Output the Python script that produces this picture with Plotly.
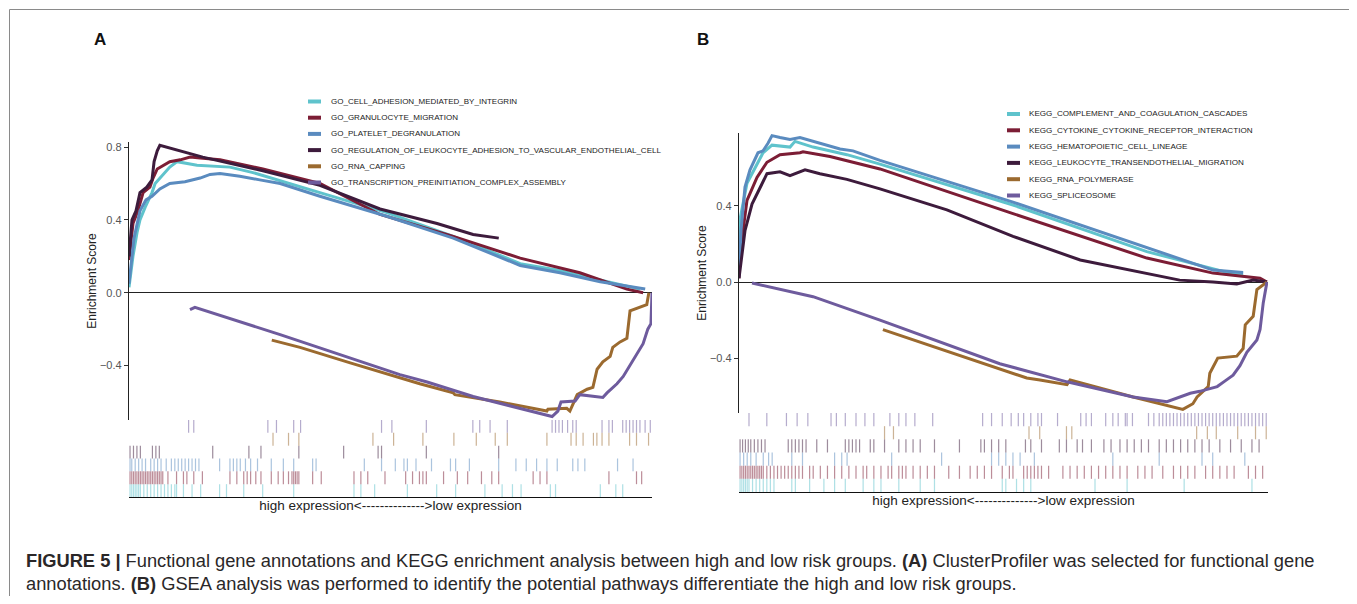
import plotly.graph_objects as go

# page is 1357x604; the html body has an 8px margin, so the figure is drawn inside it
PAGE_W, PAGE_H = 1357, 604
OFF = 8
W, H = PAGE_W - 2 * OFF, PAGE_H - 2 * OFF

# ---------------- data: panel A (GO) ----------------
GO_NAMES = [
    "GO_CELL_ADHESION_MEDIATED_BY_INTEGRIN",
    "GO_GRANULOCYTE_MIGRATION",
    "GO_PLATELET_DEGRANULATION",
    "GO_REGULATION_OF_LEUKOCYTE_ADHESION_TO_VASCULAR_ENDOTHELIAL_CELL",
    "GO_RNA_CAPPING",
    "GO_TRANSCRIPTION_PREINITIATION_COMPLEX_ASSEMBLY",
]
# running enrichment score curves: x = position in ranked list (fraction), y = ES
GO_X = [
    [0, 0.0076, 0.0153, 0.021, 0.031, 0.036, 0.044, 0.050, 0.059, 0.069, 0.078, 0.092, 0.130, 0.193, 0.237, 0.365, 0.493, 0.620, 0.748, 0.818, 0.901, 0.945, 0.977],
    [0, 0.0076, 0.017, 0.027, 0.040, 0.046, 0.054, 0.065, 0.078, 0.098, 0.117, 0.136, 0.174, 0.256, 0.365, 0.48, 0.62, 0.748, 0.862, 0.952, 0.983],
    [0, 0.0096, 0.021, 0.0325, 0.044, 0.059, 0.078, 0.107, 0.136, 0.155, 0.174, 0.212, 0.250, 0.289, 0.365, 0.493, 0.620, 0.748, 0.824, 0.901, 0.987],
    [0, 0.0057, 0.0134, 0.021, 0.034, 0.044, 0.048, 0.054, 0.059, 0.141, 0.256, 0.365, 0.48, 0.589, 0.658, 0.707],
    [0.273, 0.327, 0.423, 0.518, 0.556, 0.620, 0.623, 0.709, 0.799, 0.801, 0.837, 0.843, 0.857, 0.876, 0.887, 0.895, 0.906, 0.920, 0.925, 0.939, 0.952, 0.958, 0.990, 0.994],
    [0.1166, 0.126, 0.289, 0.518, 0.570, 0.658, 0.809, 0.820, 0.826, 0.853, 0.862, 0.906, 0.914, 0.925, 0.933, 0.945, 0.958, 0.971, 0.983, 0.992, 0.998, 1.0],
]
GO_ES = [
    [0.03, 0.2, 0.33, 0.40, 0.47, 0.50, 0.55, 0.60, 0.63, 0.66, 0.69, 0.72, 0.70, 0.69, 0.66, 0.55, 0.44, 0.31, 0.16, 0.125, 0.07, 0.04, 0.02],
    [0.18, 0.38, 0.45, 0.55, 0.58, 0.63, 0.68, 0.70, 0.72, 0.73, 0.745, 0.74, 0.73, 0.68, 0.60, 0.43, 0.31, 0.19, 0.11, 0.02, 0.0],
    [0.05, 0.3, 0.45, 0.51, 0.53, 0.57, 0.60, 0.61, 0.63, 0.65, 0.655, 0.64, 0.62, 0.60, 0.53, 0.42, 0.30, 0.15, 0.11, 0.06, 0.02],
    [0.20, 0.40, 0.45, 0.55, 0.58, 0.62, 0.72, 0.78, 0.81, 0.745, 0.67, 0.59, 0.46, 0.38, 0.32, 0.30],
    [-0.26, -0.30, -0.385, -0.47, -0.50, -0.55, -0.56, -0.60, -0.65, -0.64, -0.635, -0.65, -0.56, -0.53, -0.52, -0.42, -0.38, -0.35, -0.30, -0.27, -0.25, -0.10, -0.065, 0.0],
    [-0.093, -0.08, -0.23, -0.45, -0.49, -0.57, -0.68, -0.65, -0.60, -0.595, -0.56, -0.575, -0.55, -0.52, -0.50, -0.46, -0.40, -0.34, -0.28, -0.20, -0.17, 0.0],
]
GO_N = 1518  # ranked list length (hit positions below are ranks)
GO_HITS = [
    [3, 8, 13, 18, 23, 28, 33, 43, 53, 63, 73, 83, 93, 103, 113, 123, 133, 138, 158, 183, 208, 263, 283, 333, 388, 478, 653, 673, 713, 808, 893, 948, 1033, 1083, 1113, 1138, 1223, 1238, 1368, 1413, 1433],
    [3, 8, 13, 18, 23, 28, 33, 38, 43, 48, 53, 58, 63, 68, 73, 78, 83, 88, 93, 98, 113, 138, 158, 168, 188, 213, 293, 313, 333, 343, 353, 368, 383, 413, 433, 448, 463, 473, 478, 483, 488, 493, 533, 558, 653, 673, 693, 743, 803, 823, 843, 853, 863, 913, 953, 983, 1023, 1053, 1073, 1173, 1193, 1213, 1393, 1473, 1488],
    [3, 8, 18, 28, 38, 48, 63, 73, 83, 93, 108, 123, 133, 143, 153, 163, 173, 183, 193, 203, 263, 293, 303, 313, 323, 338, 353, 373, 413, 448, 478, 533, 543, 683, 733, 773, 798, 808, 833, 878, 933, 948, 988, 1073, 1123, 1153, 1183, 1213, 1243, 1288, 1303, 1323, 1418, 1463],
    [3, 13, 23, 33, 68, 78, 88, 243, 348, 383, 493, 623, 723, 733, 863, 1073],
    [418, 463, 493, 708, 768, 853, 943, 1008, 1063, 1098, 1213, 1283, 1298, 1318, 1348, 1358, 1373, 1393, 1453, 1473, 1508],
    [173, 188, 403, 428, 478, 498, 733, 763, 863, 998, 1018, 1048, 1098, 1228, 1238, 1248, 1258, 1273, 1288, 1298, 1373, 1393, 1403, 1433, 1443, 1453, 1463, 1473, 1483, 1498, 1513],
]

# ---------------- data: panel B (KEGG) ----------------
KEGG_NAMES = [
    "KEGG_COMPLEMENT_AND_COAGULATION_CASCADES",
    "KEGG_CYTOKINE_CYTOKINE_RECEPTOR_INTERACTION",
    "KEGG_HEMATOPOIETIC_CELL_LINEAGE",
    "KEGG_LEUKOCYTE_TRANSENDOTHELIAL_MIGRATION",
    "KEGG_RNA_POLYMERASE",
    "KEGG_SPLICEOSOME",
]
KEGG_X = [
    [0, 0.0019, 0.0151, 0.0265, 0.0454, 0.0624, 0.0964, 0.1059, 0.140, 0.204, 0.2665, 0.518, 0.771, 0.928, 0.953],
    [0, 0.0019, 0.0151, 0.034, 0.0529, 0.0775, 0.1153, 0.121, 0.172, 0.2155, 0.2665, 0.518, 0.771, 0.896, 0.934, 0.985, 0.998],
    [0, 0.0038, 0.0113, 0.0208, 0.0359, 0.0454, 0.0548, 0.0624, 0.0775, 0.0964, 0.1153, 0.153, 0.191, 0.2155, 0.2665, 0.518, 0.771, 0.896, 0.953],
    [0, 0.0019, 0.0113, 0.0246, 0.0397, 0.0529, 0.0775, 0.0964, 0.1248, 0.153, 0.204, 0.2665, 0.393, 0.518, 0.645, 0.771, 0.833, 0.896, 0.941, 0.972, 0.998],
    [0.272, 0.493, 0.544, 0.569, 0.620, 0.626, 0.745, 0.839, 0.858, 0.866, 0.887, 0.890, 0.905, 0.941, 0.953, 0.957, 0.972, 0.979, 0.998],
    [0.0246, 0.140, 0.2665, 0.493, 0.620, 0.745, 0.809, 0.834, 0.853, 0.871, 0.890, 0.904, 0.919, 0.934, 0.947, 0.960, 0.979, 0.985, 0.991, 0.998],
]
KEGG_ES = [
    [0.03, 0.33, 0.52, 0.58, 0.68, 0.72, 0.71, 0.74, 0.71, 0.67, 0.62, 0.405, 0.16, 0.047, 0.045],
    [0.02, 0.15, 0.43, 0.55, 0.63, 0.67, 0.68, 0.685, 0.66, 0.63, 0.595, 0.36, 0.126, 0.047, 0.037, 0.02, 0.0],
    [0.03, 0.27, 0.50, 0.59, 0.68, 0.69, 0.73, 0.77, 0.76, 0.75, 0.76, 0.73, 0.70, 0.69, 0.64, 0.42, 0.18, 0.063, 0.05],
    [0.02, 0.06, 0.27, 0.41, 0.50, 0.57, 0.58, 0.56, 0.59, 0.57, 0.54, 0.49, 0.38, 0.24, 0.116, 0.047, 0.01, 0.0, -0.01, 0.01, 0.0],
    [-0.25, -0.46, -0.505, -0.515, -0.54, -0.515, -0.605, -0.67, -0.64, -0.605, -0.55, -0.48, -0.40, -0.39, -0.35, -0.225, -0.18, -0.04, 0.0],
    [-0.005, -0.077, -0.2, -0.43, -0.525, -0.605, -0.63, -0.605, -0.585, -0.575, -0.56, -0.55, -0.52, -0.49, -0.44, -0.37, -0.305, -0.25, -0.11, 0.0],
]
KEGG_N = 1483
KEGG_HITS = [
    [3, 8, 13, 18, 23, 28, 38, 48, 58, 68, 78, 88, 98, 148, 158, 198, 238, 268, 298, 348, 378, 398, 448, 508, 548, 738, 748, 778, 798, 818, 998, 1088, 1248, 1438],
    [3, 8, 13, 18, 23, 28, 33, 38, 43, 48, 53, 58, 63, 68, 78, 88, 98, 108, 118, 128, 138, 148, 158, 168, 178, 198, 208, 228, 248, 268, 288, 308, 328, 348, 358, 378, 398, 418, 428, 448, 458, 468, 488, 508, 528, 548, 588, 618, 648, 668, 688, 708, 738, 758, 768, 798, 808, 818, 828, 838, 848, 868, 908, 928, 948, 968, 988, 1008, 1028, 1048, 1068, 1088, 1118, 1138, 1158, 1188, 1218, 1238, 1258, 1278, 1308, 1328, 1348, 1368, 1388, 1428, 1448, 1468],
    [3, 13, 23, 33, 48, 68, 83, 93, 148, 178, 268, 288, 303, 428, 568, 708, 728, 748, 768, 788, 828, 1048, 1178, 1298, 1328, 1418],
    [3, 10, 18, 26, 33, 43, 53, 63, 73, 138, 148, 158, 168, 178, 188, 218, 248, 298, 308, 318, 328, 338, 368, 378, 408, 448, 468, 488, 508, 548, 618, 678, 688, 708, 728, 748, 803, 818, 848, 898, 918, 948, 963, 988, 1023, 1043, 1068, 1088, 1108, 1128, 1148, 1178, 1198, 1218, 1238, 1258, 1278, 1298, 1318, 1348, 1378, 1408, 1438, 1458],
    [408, 433, 813, 843, 918, 933, 1283, 1313, 1338, 1398, 1448, 1478],
    [28, 78, 133, 163, 193, 258, 273, 298, 328, 353, 378, 423, 448, 468, 493, 543, 683, 708, 738, 763, 783, 798, 818, 838, 848, 893, 958, 973, 988, 1028, 1048, 1063, 1083, 1088, 1103, 1148, 1163, 1178, 1188, 1198, 1208, 1218, 1228, 1238, 1248, 1258, 1268, 1278, 1288, 1298, 1308, 1318, 1328, 1338, 1348, 1358, 1368, 1378, 1388, 1398, 1408, 1418, 1428, 1438, 1448, 1458, 1468, 1478],
]

COLORS = ["#5FC3CC", "#7C1D35", "#5A8BBF", "#3D1B3C", "#9B6A2F", "#6E5B9D"]

AX_LABEL = "high expression<-------------->low expression"
CAPTION_1 = ("<b>FIGURE 5 |</b> Functional gene annotations and KEGG enrichment analysis between "
             "high and low risk groups. <b>(A)</b> ClusterProfiler was selected for functional gene")
CAPTION_2 = ("annotations. <b>(B)</b> GSEA analysis was performed to identify the potential pathways "
             "differentiate the high and low risk groups.")

FONT = "Liberation Sans, Arial, sans-serif"


def fx(p):
    # page pixel -> figure paper fraction
    return (p - OFF) / W


def fy(p):
    return 1 - (p - OFF) / H


fig = go.Figure()


def add_panel(names, xs, ess, hits, ax_main, ax_bar):
    xm, ym = ax_main
    xb, yb = ax_bar
    for i, name in enumerate(names):
        fig.add_trace(go.Scatter(x=xs[i], y=ess[i], mode="lines", name=name,
                                 line=dict(color=COLORS[i], width=3),
                                 xaxis=xm, yaxis=ym, showlegend=False, hoverinfo="skip"))
    for i, name in enumerate(names):
        bx, by = [], []
        for r in hits[i]:
            bx += [r, r, None]
            by += [i, i + 1, None]
        fig.add_trace(go.Scatter(x=bx, y=by, mode="lines", name=name,
                                 line=dict(color=COLORS[i], width=1.2), opacity=0.5,
                                 xaxis=xb, yaxis=yb, showlegend=False, hoverinfo="skip"))


add_panel(GO_NAMES, GO_X, GO_ES, GO_HITS, ("x", "y"), ("x2", "y2"))
add_panel(KEGG_NAMES, KEGG_X, KEGG_ES, KEGG_HITS, ("x3", "y3"), ("x4", "y4"))

ytick_font = dict(family=FONT, size=11, color="#555555")
ytitle_font = dict(family=FONT, size=12, color="#222222")


def main_y(domain, rng, tickvals, anchor):
    return dict(domain=domain, range=rng, anchor=anchor, showgrid=False, zeroline=True,
                zerolinecolor="#222222", zerolinewidth=1.2, showline=True, linecolor="#222222",
                linewidth=1.4, ticks="outside", ticklen=4, tickcolor="#333333", tickwidth=1,
                tickvals=tickvals, tickformat=".1f", tickfont=ytick_font,
                title=dict(text="Enrichment Score", font=ytitle_font, standoff=0))


def main_x(domain, anchor):
    return dict(domain=domain, range=[0, 1], anchor=anchor, showgrid=False, zeroline=False,
                showline=False, showticklabels=False, ticks="")


def bar_x(domain, anchor, n):
    return dict(domain=domain, range=[0, n], anchor=anchor, showgrid=False, zeroline=False,
                showline=True, linecolor="#111111", linewidth=1.4, showticklabels=False, ticks="",
                title=dict(text=AX_LABEL, font=dict(family=FONT, size=13.5, color="#222222"), standoff=3))


def bar_y(domain, anchor):
    return dict(domain=domain, range=[0, 6], anchor=anchor, visible=False, fixedrange=True)


A_X = [fx(129), fx(652)]
B_X = [fx(739), fx(1268)]

fig.update_layout(
    width=W, height=H, margin=dict(l=0, r=0, t=0, b=0),
    paper_bgcolor="white", plot_bgcolor="white", showlegend=False,
    xaxis=main_x(A_X, "y"),
    yaxis=main_y([fy(420), fy(142)], [-0.699, 0.828], [-0.4, 0.0, 0.4, 0.8], "x"),
    xaxis2=bar_x(A_X, "y2", GO_N),
    yaxis2=bar_y([fy(497), fy(420)], "x2"),
    xaxis3=main_x(B_X, "y3"),
    yaxis3=main_y([fy(413), fy(133)], [-0.689, 0.784], [-0.4, 0.0, 0.4], "x3"),
    xaxis4=bar_x(B_X, "y4", KEGG_N),
    yaxis4=bar_y([fy(492), fy(413)], "x4"),
)

annotations = []
shapes = []

# outer frame
shapes.append(dict(type="rect", xref="paper", yref="paper", x0=fx(9.5), x1=fx(1349.5),
                   y0=fy(640), y1=fy(9.5), line=dict(color="#8a8a8a", width=1)))


def add_legend(names, x_sw, x_txt, y_rows, size):
    for i, name in enumerate(names):
        shapes.append(dict(type="line", xref="paper", yref="paper", x0=fx(x_sw), x1=fx(x_sw + 13),
                           y0=fy(y_rows[i]), y1=fy(y_rows[i]),
                           line=dict(color=COLORS[i], width=4)))
        annotations.append(dict(text=name, xref="paper", yref="paper", x=fx(x_txt), y=fy(y_rows[i]),
                                xanchor="left", yanchor="middle", showarrow=False,
                                font=dict(family=FONT, size=size, color="#222222")))


add_legend(GO_NAMES, 308, 329, [101.5, 117.7, 133.9, 150.1, 166.3, 182.5], 8)
add_legend(KEGG_NAMES, 1007, 1027, [114, 130.3, 146.6, 162.9, 179.2, 195.5], 8.1)

# panel letters
for letter, px_, py_ in [("A", 100, 40), ("B", 703, 40)]:
    annotations.append(dict(text=f"<b>{letter}</b>", xref="paper", yref="paper", x=fx(px_), y=fy(py_),
                            xanchor="center", yanchor="middle", showarrow=False,
                            font=dict(family=FONT, size=17, color="#111111")))

# caption
for txt, py_ in [(CAPTION_1, 560), (CAPTION_2, 583)]:
    annotations.append(dict(text=txt, xref="paper", yref="paper", x=fx(24), y=fy(py_),
                            xanchor="left", yanchor="middle", showarrow=False,
                            font=dict(family=FONT, size=18.3, color="#2a2728")))

fig.update_layout(annotations=annotations, shapes=shapes)
fig.write_html("out.html")
